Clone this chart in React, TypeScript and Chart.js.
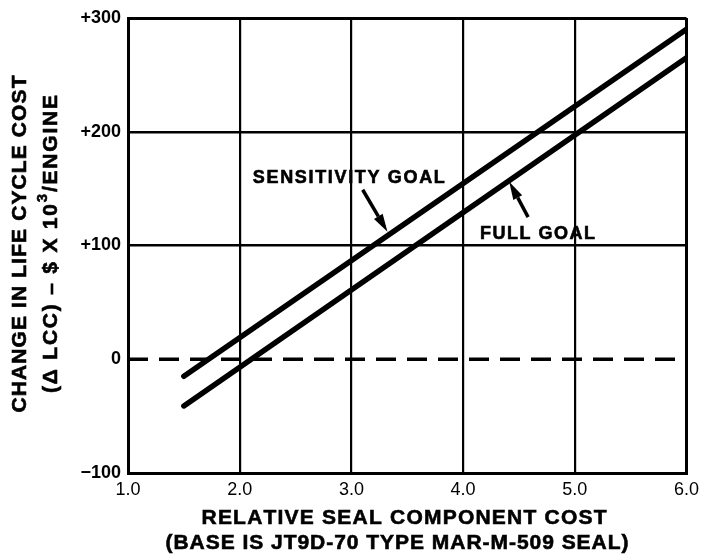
import React, { useEffect, useRef } from "react";
import { Chart, registerables } from "chart.js";

Chart.register(...registerables);

// Relative seal component cost (x) and change in life cycle cost, $K per engine (y)
const costRatio = [1.5, 6.0];
const sensitivityGoal = [-15, 290];
const fullGoal = [-41, 265];
const baseline = [0, 0];
const baselineX = [1.0, 6.0];

const xTickValues = [1, 2, 3, 4, 5, 6];
const xTickLabels = ["1.0", "2.0", "3.0", "4.0", "5.0", "6.0"];
const yTickValues = [-100, 0, 100, 200, 300];
const yTickLabels = ["\u2212100", "0", "+100", "+200", "+300"];

const curveLabels = ["SENSITIVITY GOAL", "FULL GOAL"];

// Callouts, anchored in data units: label centre, arrow tail, arrow tip
const callouts = [
  { text: curveLabels[0], at: [2.977, 159], width: 192, tail: [3.101, 149], tip: [3.323, 112] },
  { text: curveLabels[1], at: [4.666, 110], width: 115, tail: [4.582, 125], tip: [4.413, 156] },
];

type Run = { t: string; size: number; rise?: number };

const FAMILY = '"Liberation Sans", Arial, sans-serif';

// Draws a row of text runs centred on (0,0), spreading letters to fill the width given.
function drawSpread(ctx: CanvasRenderingContext2D, runs: Run[], width: number) {
  const glyphs: { c: string; font: string; w: number; rise: number }[] = [];
  for (const r of runs) {
    const font = `bold ${r.size}px ${FAMILY}`;
    ctx.font = font;
    for (const c of Array.from(r.t)) {
      glyphs.push({ c, font, w: ctx.measureText(c).width, rise: r.rise || 0 });
    }
  }
  const total = glyphs.reduce((s, g) => s + g.w, 0);
  const gap = glyphs.length > 1 ? (width - total) / (glyphs.length - 1) : 0;
  let x = -width / 2;
  ctx.textAlign = "left";
  ctx.textBaseline = "middle";
  for (const g of glyphs) {
    ctx.font = g.font;
    ctx.fillText(g.c, x, -g.rise);
    // a thin outline makes the heavy lettering a touch bolder
    ctx.lineWidth = 0.6;
    ctx.strokeText(g.c, x, -g.rise);
    x += g.w + gap;
  }
}

const decorations = {
  id: "decorations",
  beforeDraw(chart: Chart) {
    const { ctx, width, height } = chart;
    ctx.save();
    ctx.fillStyle = "#fff";
    ctx.fillRect(0, 0, width, height);
    ctx.restore();
  },
  afterDraw(chart: Chart) {
    const { ctx } = chart;
    const xs = chart.scales.x;
    const ys = chart.scales.y;
    ctx.save();
    ctx.fillStyle = "#000";
    ctx.strokeStyle = "#000";

    // curve callouts with arrows
    for (const c of callouts) {
      ctx.save();
      ctx.translate(xs.getPixelForValue(c.at[0]), ys.getPixelForValue(c.at[1]));
      drawSpread(ctx, [{ t: c.text, size: 18 }], c.width);
      ctx.restore();

      const x0 = xs.getPixelForValue(c.tail[0]);
      const y0 = ys.getPixelForValue(c.tail[1]);
      const x1 = xs.getPixelForValue(c.tip[0]);
      const y1 = ys.getPixelForValue(c.tip[1]);
      const ang = Math.atan2(y1 - y0, x1 - x0);
      const head = 18;
      const half = 5;
      const bx = x1 - head * Math.cos(ang);
      const by = y1 - head * Math.sin(ang);
      ctx.lineWidth = 3.5;
      ctx.lineCap = "butt";
      ctx.beginPath();
      ctx.moveTo(x0, y0);
      ctx.lineTo(bx, by);
      ctx.stroke();
      ctx.beginPath();
      ctx.moveTo(x1, y1);
      ctx.lineTo(bx + half * Math.sin(ang), by - half * Math.cos(ang));
      ctx.lineTo(bx - half * Math.sin(ang), by + half * Math.cos(ang));
      ctx.closePath();
      ctx.fill();
    }

    // x-axis title, two lines
    ctx.save();
    ctx.translate(404, 518);
    drawSpread(ctx, [{ t: "RELATIVE SEAL COMPONENT COST", size: 21 }], 405);
    ctx.restore();
    ctx.save();
    ctx.translate(397, 543);
    drawSpread(ctx, [{ t: "(BASE IS JT9D-70 TYPE MAR-M-509 SEAL)", size: 21 }], 463);
    ctx.restore();

    // y-axis title, two rotated lines
    ctx.save();
    ctx.translate(20, 244);
    ctx.rotate(-Math.PI / 2);
    drawSpread(ctx, [{ t: "CHANGE IN LIFE CYCLE COST", size: 21 }], 337);
    ctx.restore();
    ctx.save();
    ctx.translate(51, 244);
    ctx.rotate(-Math.PI / 2);
    drawSpread(
      ctx,
      [
        { t: "(\u0394 LCC) \u2013 $ X 10", size: 21 },
        { t: "3", size: 15, rise: 8 },
        { t: "/ENGINE", size: 21 },
      ],
      298
    );
    ctx.restore();

    ctx.restore();
  },
};

export default function App() {
  const ref = useRef<HTMLCanvasElement | null>(null);

  useEffect(() => {
    if (!ref.current) return;
    const toPoints = (xv: number[], yv: number[]) => xv.map((x, i) => ({ x, y: yv[i] }));
    const chart = new Chart(ref.current, {
      type: "line",
      data: {
        datasets: [
          {
            label: "baseline",
            data: toPoints(baselineX, baseline),
            borderColor: "#000",
            borderWidth: 3.5,
            borderDash: [20, 11],
            pointRadius: 0,
          },
          {
            label: curveLabels[0],
            data: toPoints(costRatio, sensitivityGoal),
            borderColor: "#000",
            borderWidth: 5.5,
            borderCapStyle: "round",
            pointRadius: 0,
          },
          {
            label: curveLabels[1],
            data: toPoints(costRatio, fullGoal),
            borderColor: "#000",
            borderWidth: 5.5,
            borderCapStyle: "round",
            pointRadius: 0,
          },
        ],
      },
      options: {
        responsive: true,
        maintainAspectRatio: false,
        animation: false,
        layout: { padding: { top: 18, right: 13, left: 0, bottom: 0 } },
        plugins: { legend: { display: false }, tooltip: { enabled: false } },
        scales: {
          x: {
            type: "linear",
            min: 1,
            max: 6,
            afterBuildTicks: (s: any) => {
              s.ticks = xTickValues.map((value) => ({ value }));
            },
            afterFit: (s: any) => {
              s.height = 87;
            },
            ticks: {
              callback: (v: any) => xTickLabels[xTickValues.indexOf(Number(v))] ?? "",
              color: "#000",
              padding: 6,
              maxRotation: 0,
              font: { family: FAMILY, size: 18 },
            },
            grid: {
              color: "#000",
              drawTicks: false,
              lineWidth: (c: any) => (c.tick && (c.tick.value === 1 || c.tick.value === 6) ? 3 : 2.2),
            },
            border: { display: true, color: "#000", width: 3 },
          },
          y: {
            type: "linear",
            min: -100,
            max: 300,
            afterBuildTicks: (s: any) => {
              s.ticks = yTickValues.map((value) => ({ value }));
            },
            afterFit: (s: any) => {
              s.width = 128;
            },
            ticks: {
              callback: (v: any) => yTickLabels[yTickValues.indexOf(Number(v))] ?? "",
              color: "#000",
              padding: 7,
              font: { family: FAMILY, size: 18, weight: "bold" },
            },
            grid: {
              color: "#000",
              drawTicks: false,
              lineWidth: (c: any) => {
                const v = c.tick ? c.tick.value : null;
                if (v === 0) return 0;
                return v === 300 || v === -100 ? 3 : 2.5;
              },
            },
            border: { display: true, color: "#000", width: 3 },
          },
        },
      },
      plugins: [decorations],
    });
    return () => chart.destroy();
  }, []);

  return (
    <div style={{ position: "absolute", left: 0, top: 0, width: 705, height: 560, background: "#fff" }}>
      <canvas ref={ref} />
    </div>
  );
}
